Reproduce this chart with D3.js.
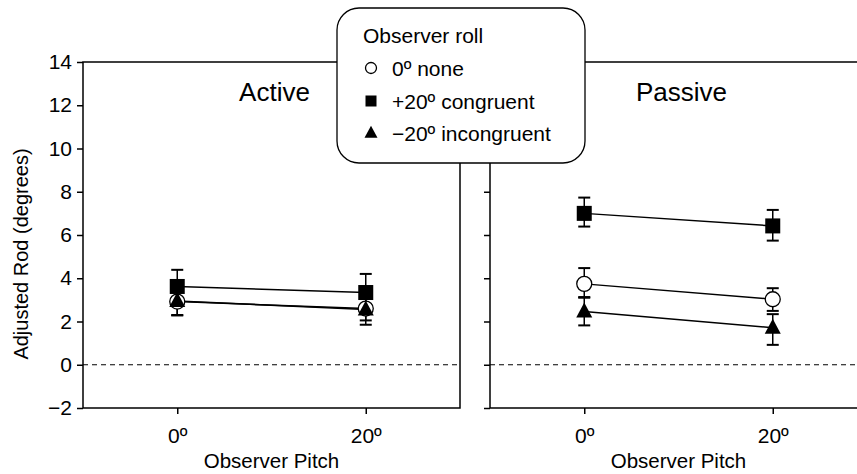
<!DOCTYPE html>
<html><head><meta charset="utf-8">
<script src="https://cdn.jsdelivr.net/npm/d3@7"></script>
<style>body{margin:0;background:#fff}svg{display:block;font-family:"Liberation Sans",Arial,sans-serif}</style>
</head><body><svg id="c" width="857" height="474"></svg>
<script>
const pitches = [0, 20];
const pitchLabels = ["0º", "20º"];
const yTicks = [-2, 0, 2, 4, 6, 8, 10, 12, 14];
const panels = ["Active", "Passive"];
const seriesNames = ["0º none", "+20º congruent", "−20º incongruent"];
const seriesShapes = ["circle", "square", "triangle"];
// Active panel: mean, low, high (degrees)
const activeNone = [2.92, 2.60];
const activeNoneLo = [2.30, 2.05];
const activeNoneHi = [3.50, 3.15];
const activeCong = [3.62, 3.34];
const activeCongLo = [2.85, 2.50];
const activeCongHi = [4.39, 4.20];
const activeIncong = [2.95, 2.55];
const activeIncongLo = [2.28, 1.85];
const activeIncongHi = [3.60, 3.25];
// Passive panel
const passiveNone = [3.74, 3.03];
const passiveNoneLo = [3.13, 2.49];
const passiveNoneHi = [4.47, 3.54];
const passiveCong = [7.00, 6.42];
const passiveCongLo = [6.39, 5.74];
const passiveCongHi = [7.73, 7.16];
const passiveIncong = [2.46, 1.71];
const passiveIncongLo = [1.82, 0.92];
const passiveIncongHi = [3.10, 2.34];

const data = [
  [[activeNone, activeNoneLo, activeNoneHi], [activeCong, activeCongLo, activeCongHi], [activeIncong, activeIncongLo, activeIncongHi]],
  [[passiveNone, passiveNoneLo, passiveNoneHi], [passiveCong, passiveCongLo, passiveCongHi], [passiveIncong, passiveIncongLo, passiveIncongHi]]
];

const svg = d3.select("#c");
const y = d3.scaleLinear().domain([-2, 14]).range([408, 62]);
const xs = [
  d3.scaleLinear().domain([-10, 30]).range([83, 460]),
  d3.scaleLinear().domain([-10, 30]).range([490, 867])
];
const FS = 21;
const FF = "Liberation Sans, Arial, sans-serif";

function marker(g, shape, cx, cy, legend) {
  if (shape === "circle") {
    g.append("circle").attr("cx", cx).attr("cy", cy).attr("r", legend ? 5.5 : 7.5)
      .attr("fill", "#fff").attr("stroke", "#000").attr("stroke-width", 1.3);
  } else if (shape === "square") {
    const s = legend ? 11 : 15;
    g.append("rect").attr("x", cx - s/2).attr("y", cy - s/2).attr("width", s).attr("height", s).attr("fill", "#000");
  } else {
    const w = legend ? 13 : 16, h = legend ? 12 : 15;
    g.append("path").attr("d", `M${cx},${cy - h*0.6}L${cx + w/2},${cy + h*0.4}L${cx - w/2},${cy + h*0.4}Z`).attr("fill", "#000");
  }
}

panels.forEach((name, p) => {
  const x = xs[p];
  const g = svg.append("g");
  const x0 = x.range()[0], x1 = x.range()[1];
  // frame
  g.append("path").attr("d", `M${x0},${y(-2)}V${y(14)}H${x1}V${y(-2)}Z`).attr("fill", "none").attr("stroke", "#000").attr("stroke-width", 1.5);
  // y axis ticks
  const ya = g.append("g").attr("transform", `translate(${x0},0)`)
    .call(d3.axisLeft(y).tickValues(yTicks).tickSize(6).tickPadding(5).tickFormat(d => d < 0 ? "−" + Math.abs(d) : d));
  ya.select(".domain").remove();
  ya.selectAll("line").attr("stroke-width", 1.5);
  ya.selectAll("text").attr("font-size", FS).attr("font-family", FF).style("display", p === 0 ? null : "none");
  // x axis
  const xa = g.append("g").attr("transform", `translate(0,${y(-2)})`)
    .call(d3.axisBottom(x).tickValues(pitches).tickSize(6).tickPadding(14).tickFormat((d, i) => pitchLabels[i]));
  xa.select(".domain").remove();
  xa.selectAll("line").attr("stroke-width", 1.5);
  xa.selectAll("text").attr("font-size", FS).attr("font-family", FF);
  // zero line
  g.append("line").attr("x1", x0).attr("x2", x1).attr("y1", y(0)).attr("y2", y(0))
    .attr("stroke", "#000").attr("stroke-width", 1).attr("stroke-dasharray", "5,4");
  // panel title
  g.append("text").attr("x", x(10) + 3).attr("y", 101).attr("text-anchor", "middle")
    .attr("font-size", 26).text(name);
  // x title
  g.append("text").attr("x", x(10)).attr("y", 468).attr("text-anchor", "middle")
    .attr("font-size", 20.5).text("Observer Pitch");
  const ser = data[p];
  // lines
  ser.forEach(s => {
    g.append("path").datum(s[0]).attr("fill", "none").attr("stroke", "#000").attr("stroke-width", 1.5)
      .attr("d", d3.line().x((d, i) => x(pitches[i])).y(d => y(d)));
  });
  // error bars
  ser.forEach(s => {
    pitches.forEach((pt, i) => {
      const cx = x(pt);
      g.append("line").attr("x1", cx).attr("x2", cx).attr("y1", y(s[1][i])).attr("y2", y(s[2][i])).attr("stroke", "#000").attr("stroke-width", 1.5);
      [s[1][i], s[2][i]].forEach(v => g.append("line").attr("x1", cx - 6).attr("x2", cx + 6).attr("y1", y(v)).attr("y2", y(v)).attr("stroke", "#000").attr("stroke-width", 2));
    });
  });
  // markers
  ser.forEach((s, k) => {
    pitches.forEach((pt, i) => marker(g, seriesShapes[k], x(pt), y(s[0][i]), false));
  });
});

// y title
svg.append("text").attr("transform", "translate(28,254) rotate(-90)").attr("text-anchor", "middle")
  .attr("font-size", 20).text("Adjusted Rod (degrees)");

// legend
const lg = svg.append("g");
lg.append("rect").attr("x", 337).attr("y", 8).attr("width", 248).attr("height", 155).attr("rx", 22)
  .attr("fill", "#fff").attr("stroke", "#000").attr("stroke-width", 1.3);
lg.append("text").attr("x", 363).attr("y", 43).attr("font-size", FS).text("Observer roll");
const legY = [68, 101, 133];
seriesNames.forEach((n, k) => {
  marker(lg, seriesShapes[k], 371, legY[k], true);
  lg.append("text").attr("x", 392).attr("y", legY[k] + 7.5).attr("font-size", FS).text(n);
});
</script></body></html>
